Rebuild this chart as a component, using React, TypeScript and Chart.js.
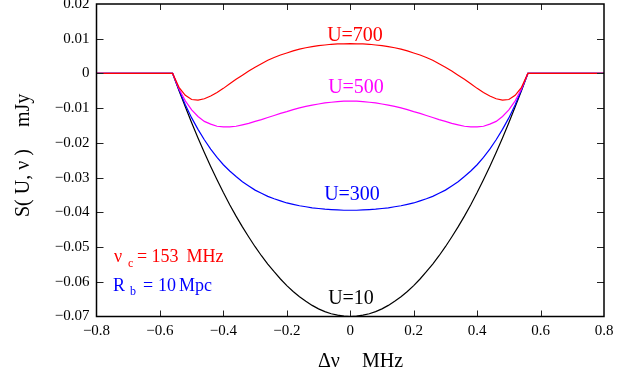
import { useEffect, useRef } from 'react';
import { Chart, registerables } from 'chart.js';

Chart.register(...registerables);

// Δν (MHz)
const deltaNu = [
  -0.8, -0.56, -0.54, -0.52, -0.5, -0.48, -0.46, -0.44, -0.42, -0.4, -0.38, -0.36, -0.34, -0.32, -0.3,
  -0.28, -0.26, -0.24, -0.22, -0.2, -0.18, -0.16, -0.14, -0.12, -0.1, -0.08, -0.06, -0.04, -0.02, 0,
  0.02, 0.04, 0.06, 0.08, 0.1, 0.12, 0.14, 0.16, 0.18, 0.2, 0.22, 0.24, 0.26, 0.28, 0.3, 0.32, 0.34,
  0.36, 0.38, 0.4, 0.42, 0.44, 0.46, 0.48, 0.5, 0.52, 0.54, 0.56, 0.8,
];

// S(U, ν) in mJy
const sU700 = [
  0, 0, -0.004, -0.0063, -0.0075, -0.0077, -0.0073, -0.0065, -0.0055, -0.0043, -0.003, -0.0017, -0.0005,
  0.0007, 0.0018, 0.0028, 0.0038, 0.0046, 0.0053, 0.0059, 0.0065, 0.007, 0.0074, 0.0077, 0.008, 0.0082,
  0.0084, 0.0085, 0.0085, 0.0086,
  0.0085, 0.0085, 0.0084, 0.0082, 0.008, 0.0077, 0.0074, 0.007, 0.0065, 0.0059, 0.0053, 0.0046, 0.0038,
  0.0028, 0.0018, 0.0007, -0.0005, -0.0017, -0.003, -0.0043, -0.0055, -0.0065, -0.0073, -0.0077, -0.0075,
  -0.0063, -0.004, 0, 0,
];
const sU500 = [
  0, 0, -0.0044, -0.0079, -0.0105, -0.0124, -0.0138, -0.0146, -0.0152, -0.0154, -0.0154, -0.0152, -0.0148,
  -0.0144, -0.0138, -0.0133, -0.0127, -0.0121, -0.0115, -0.011, -0.0104, -0.0099, -0.0095, -0.0091, -0.0088,
  -0.0085, -0.0083, -0.0081, -0.008, -0.008,
  -0.008, -0.0081, -0.0083, -0.0085, -0.0088, -0.0091, -0.0095, -0.0099, -0.0104, -0.011, -0.0115, -0.0121,
  -0.0127, -0.0133, -0.0138, -0.0144, -0.0148, -0.0152, -0.0154, -0.0154, -0.0152, -0.0146, -0.0138, -0.0124,
  -0.0105, -0.0079, -0.0044, 0, 0,
];
const sU300 = [
  0, 0, -0.0047, -0.009, -0.0128, -0.0161, -0.0191, -0.0218, -0.0242, -0.0263, -0.0281, -0.0297, -0.0312,
  -0.0324, -0.0336, -0.0345, -0.0354, -0.0361, -0.0367, -0.0373, -0.0377, -0.0381, -0.0384, -0.0387, -0.0389,
  -0.0391, -0.0392, -0.0393, -0.0394, -0.0394,
  -0.0394, -0.0393, -0.0392, -0.0391, -0.0389, -0.0387, -0.0384, -0.0381, -0.0377, -0.0373, -0.0367, -0.0361,
  -0.0354, -0.0345, -0.0336, -0.0324, -0.0312, -0.0297, -0.0281, -0.0263, -0.0242, -0.0218, -0.0191, -0.0161,
  -0.0128, -0.009, -0.0047, 0, 0,
];
const sU10 = [
  0, 0, -0.0049, -0.0096, -0.0142, -0.0186, -0.0228, -0.0268, -0.0306, -0.0343, -0.0378, -0.0411, -0.0442,
  -0.0471, -0.0499, -0.0525, -0.0549, -0.0571, -0.0592, -0.0611, -0.0628, -0.0643, -0.0656, -0.0668, -0.0678,
  -0.0686, -0.0692, -0.0696, -0.0699, -0.07,
  -0.0699, -0.0696, -0.0692, -0.0686, -0.0678, -0.0668, -0.0656, -0.0643, -0.0628, -0.0611, -0.0592, -0.0571,
  -0.0549, -0.0525, -0.0499, -0.0471, -0.0442, -0.0411, -0.0378, -0.0343, -0.0306, -0.0268, -0.0228, -0.0186,
  -0.0142, -0.0096, -0.0049, 0, 0,
];

const seriesNames = ['U=700', 'U=500', 'U=300', 'U=10'];
const seriesColors = ['#ff0000', '#ff00ff', '#0000ff', '#000000'];

const xTicks = [-0.8, -0.6, -0.4, -0.2, 0, 0.2, 0.4, 0.6, 0.8];
const yTicks = [-0.07, -0.06, -0.05, -0.04, -0.03, -0.02, -0.01, 0, 0.01, 0.02];

const SERIF = '"Liberation Serif", "Times New Roman", Times, serif';

const fmt = (v: number) => {
  const r = Math.round(v * 100) / 100;
  if (r === 0) return '0';
  return String(r).replace('-', '\u2212');
};

export default function App() {
  const ref = useRef<HTMLCanvasElement>(null);

  useEffect(() => {
    if (!ref.current) return;
    const mk = (vals: number[], i: number) => ({
      label: seriesNames[i],
      data: deltaNu.map((x, k) => ({ x, y: vals[k] })),
      borderColor: seriesColors[i],
      backgroundColor: seriesColors[i],
      borderWidth: 1.2,
      pointRadius: 0,
      fill: false,
      tension: 0,
    });

    const frame = {
      id: 'frame',
      afterDraw(chart: any) {
        const { ctx, chartArea: a, scales } = chart;
        const xs = scales.x;
        const ys = scales.y;
        ctx.save();
        // inward ticks
        ctx.strokeStyle = '#222';
        ctx.lineWidth = 1;
        ctx.beginPath();
        xTicks.forEach((v) => {
          if (v <= -0.8 || v >= 0.8) return;
          const px = Math.round(xs.getPixelForValue(v)) + 0.5;
          ctx.moveTo(px, a.bottom);
          ctx.lineTo(px, a.bottom - 6);
          ctx.moveTo(px, a.top);
          ctx.lineTo(px, a.top + 6);
        });
        yTicks.forEach((v) => {
          if (v <= -0.07 || v >= 0.02) return;
          const py = Math.round(ys.getPixelForValue(v)) + 0.5;
          ctx.moveTo(a.left, py);
          ctx.lineTo(a.left + 7, py);
          ctx.moveTo(a.right, py);
          ctx.lineTo(a.right - 7, py);
        });
        ctx.stroke();
        // frame
        ctx.strokeStyle = '#000';
        ctx.lineWidth = 1.5;
        ctx.strokeRect(a.left, a.top, a.right - a.left, a.bottom - a.top);

        // curve labels
        ctx.textBaseline = 'alphabetic';
        ctx.textAlign = 'center';
        ctx.font = `20px ${SERIF}`;
        ctx.fillStyle = seriesColors[0];
        ctx.fillText(seriesNames[0], 355, 41);
        ctx.fillStyle = seriesColors[1];
        ctx.fillText(seriesNames[1], 356, 93);
        ctx.fillStyle = seriesColors[2];
        ctx.fillText(seriesNames[2], 352, 200);
        ctx.fillStyle = seriesColors[3];
        ctx.fillText(seriesNames[3], 351, 304);

        // parameter notes
        ctx.textAlign = 'left';
        ctx.fillStyle = '#ff0000';
        ctx.font = `18px ${SERIF}`;
        ctx.fillText('\u03bd', 114, 262);
        ctx.font = `12px ${SERIF}`;
        ctx.fillText('c', 128, 267);
        ctx.font = `18px ${SERIF}`;
        ctx.fillText('=', 137, 262);
        ctx.fillText('153', 151.5, 262);
        ctx.fillText('MHz', 186.5, 262);

        ctx.fillStyle = '#0000ff';
        ctx.fillText('R', 113, 291);
        ctx.font = `12px ${SERIF}`;
        ctx.fillText('b', 130, 295);
        ctx.font = `18px ${SERIF}`;
        ctx.fillText('=', 143, 291);
        ctx.fillText('10', 158, 291);
        ctx.fillText('Mpc', 179, 291);

        // axis titles
        ctx.fillStyle = '#000';
        ctx.font = `20px ${SERIF}`;
        ctx.fillText('\u0394\u03bd', 318, 367);
        ctx.fillText('MHz', 362, 367);

        ctx.translate(29, 217);
        ctx.rotate(-Math.PI / 2);
        ctx.fillText('S( U, \u03bd )', 0, 0);
        ctx.fillText('mJy', 90, 0);
        ctx.restore();
      },
    };

    const chart = new Chart(ref.current, {
      type: 'line',
      data: {
        datasets: [mk(sU700, 0), mk(sU500, 1), mk(sU300, 2), mk(sU10, 3)],
      },
      options: {
        responsive: false,
        animation: false,
        devicePixelRatio: 1,
        layout: { padding: { left: 0, right: 22, top: 4, bottom: 0 } },
        plugins: { legend: { display: false }, tooltip: { enabled: false } },
        scales: {
          x: {
            type: 'linear',
            min: -0.8,
            max: 0.8,
            grid: { display: false, drawTicks: false },
            border: { display: false },
            afterBuildTicks: (s: any) => {
              s.ticks = xTicks.map((value) => ({ value }));
            },
            afterFit: (s: any) => {
              s.height = 69.5;
              s.paddingLeft = 0;
              s.paddingRight = 0;
            },
            ticks: {
              autoSkip: false,
              maxRotation: 0,
              padding: 6,
              color: '#000',
              font: { family: SERIF, size: 15 },
              callback: (v: any) => fmt(Number(v)),
            },
          },
          y: {
            type: 'linear',
            min: -0.07,
            max: 0.02,
            grid: { display: false, drawTicks: false },
            border: { display: false },
            afterBuildTicks: (s: any) => {
              s.ticks = yTicks.map((value) => ({ value }));
            },
            afterFit: (s: any) => {
              s.width = 96.5;
              s.paddingTop = 0;
              s.paddingBottom = 0;
            },
            ticks: {
              autoSkip: false,
              padding: 7,
              color: '#000',
              font: { family: SERIF, size: 15 },
              callback: (v: any) => fmt(Number(v)),
            },
          },
        },
      },
      plugins: [frame],
    } as any);

    return () => chart.destroy();
  }, []);

  return (
    <div style={{ position: 'absolute', left: 0, top: 0, width: 626, height: 386, background: '#fff' }}>
      <canvas ref={ref} width={626} height={386} style={{ display: 'block' }} />
    </div>
  );
}
